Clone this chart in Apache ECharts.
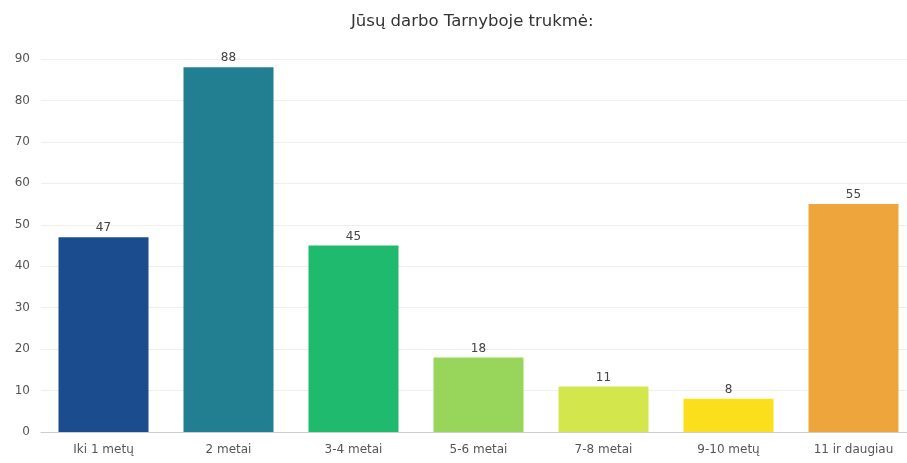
<!DOCTYPE html>
<html>
<head>
<meta charset="utf-8">
<script src="https://cdn.jsdelivr.net/npm/echarts@6/dist/echarts.min.js"></script>
<style>
    html, body { margin: 0; padding: 0; background: #fff; }
    #chart { width: 907px; height: 463px; }
</style>
</head>
<body>
<div id="chart"></div>
<script>
// kategorijos ir reikšmės
const categories = ['Iki 1 metų', '2 metai', '3-4 metai', '5-6 metai', '7-8 metai', '9-10 metų', '11 ir daugiau']
const counts = [47, 88, 45, 18, 11, 8, 55]
const barColors = ['#1b4c8e', '#227f91', '#1fba6d', '#97d65b', '#d3e64c', '#fbdf1c', '#eea53c']

let chart = echarts.init(document.getElementById('chart'))
let option = {
    animation: false,
    title: {
        text: 'Jūsų darbo Tarnyboje trukmė:',
        left: 346,
        top: 8,
        textStyle: {
            fontFamily: 'DejaVu Sans',
            fontSize: 16.5,
            fontWeight: 'normal',
            color: '#333'
        }
    },
    grid: {
        left: 41,
        right: -9,
        top: 59,
        bottom: 31,
        // plot area runs a bit past the right edge in the original
        outerBoundsMode: 'none'
    },
    xAxis: {
        type: 'category',
        data: categories,
        axisTick: { show: false },
        axisLine: { lineStyle: { color: '#ccc' } },
        axisLabel: {
            color: '#555',
            fontFamily: 'DejaVu Sans',
            fontSize: 12,
            margin: 12
        }
    },
    yAxis: {
        type: 'value',
        min: 0,
        max: 90,
        interval: 10,
        axisLabel: {
            color: '#555',
            fontFamily: 'DejaVu Sans',
            fontSize: 12,
            margin: 11
        },
        splitLine: { lineStyle: { color: '#eee' } }
    },
    series: [{
        type: 'bar',
        data: counts.map((v, i) => ({ value: v, itemStyle: { color: barColors[i] } })),
        barWidth: '72%',
        label: {
            show: true,
            position: 'top',
            color: '#444',
            fontFamily: 'DejaVu Sans',
            fontSize: 12,
            distance: 3
        }
    }]
}
chart.setOption(option)
</script>
</body>
</html>
